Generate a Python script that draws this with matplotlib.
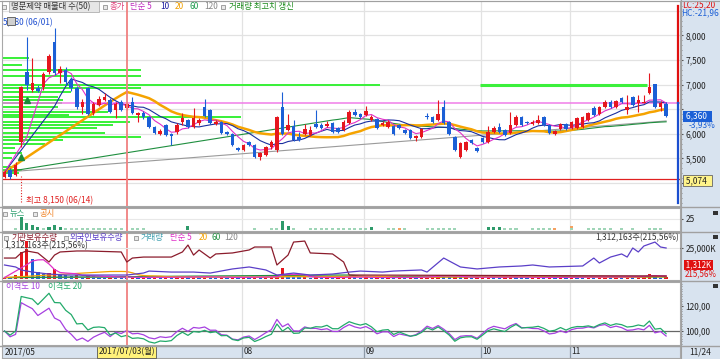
import numpy as np
import pandas as pd
import matplotlib
matplotlib.use('Agg')
import matplotlib.pyplot as plt
from matplotlib.patches import Rectangle
from matplotlib.lines import Line2D
from matplotlib.ticker import MultipleLocator

plt.rcParams['font.family'] = ['Noto Sans CJK KR', 'DejaVu Sans']
plt.rcParams['axes.linewidth'] = 0.8

# ---- daily candles 2017/05/31 .. 2017/11/24 ----
opens = [5120, 5260, 5160, 5830, 7260, 6890, 6930, 6950, 7260, 7870,
         7240, 7300, 7090, 6930, 6550, 6930, 6420, 6590, 6690, 6690,
         6480, 6650, 6520, 6650, 6380, 6420, 6340, 6140, 6000, 6180,
         6000, 6040, 6240, 6280, 6140, 6220, 6550, 6480, 6200, 6240,
         6040, 6000, 5710, 5670, 5830, 5770, 5530, 5570, 5730, 5670,
         6550, 6080, 6160, 5930, 6000, 5980, 6200, 6180, 6160, 6220,
         6120, 6080, 6220, 6440, 6400, 6380, 6280, 6300, 6180, 6140,
         6160, 6180, 6080, 6080, 5920, 5940, 6360, 6340, 6280, 6540,
         6240, 5940, 5530, 5670, 5870, 5710, 5920, 5830, 6040, 6140,
         6080, 6020, 6180, 6340, 6240, 6200, 6220, 6340, 6180, 6000,
         6100, 6200, 6120, 6120, 6140, 6280, 6520, 6400, 6550, 6650,
         6550, 6730, 6480, 6750, 6630, 6630, 6830, 7010, 6550, 6600]
highs = [5260, 5300, 5430, 6980, 7970, 7540, 7000, 7260, 7620, 8150,
         7380, 7360, 7150, 6980, 6700, 6960, 6650, 6760, 6830, 6720,
         6650, 6690, 6650, 6750, 6450, 6460, 6360, 6160, 6100, 6200,
         6020, 6220, 6420, 6300, 6520, 6320, 6710, 6500, 6280, 6260,
         6060, 6020, 5730, 5800, 5850, 5790, 5640, 5760, 5870, 6360,
         6850, 6400, 6280, 6040, 6200, 6150, 6480, 6220, 6260, 6250,
         6140, 6280, 6480, 6500, 6420, 6560, 6380, 6320, 6260, 6280,
         6180, 6200, 6100, 6100, 5980, 6120, 6420, 6360, 6680, 6680,
         6260, 5960, 5830, 5860, 5900, 5730, 5940, 6150, 6160, 6220,
         6100, 6440, 6380, 6360, 6260, 6280, 6380, 6360, 6200, 6080,
         6220, 6220, 6260, 6340, 6360, 6440, 6560, 6560, 6680, 6680,
         6690, 6750, 6780, 6770, 6780, 6780, 7240, 7020, 6670, 6640]
lows = [5100, 5080, 5140, 5730, 6890, 6850, 6840, 6900, 7220, 7200,
        7030, 6990, 6880, 6500, 6400, 6380, 6390, 6560, 6660, 6420,
        6320, 6460, 6480, 6400, 6240, 6300, 6120, 6000, 5980, 5960,
        5780, 6000, 6180, 6120, 6120, 6180, 6340, 6200, 6180, 6000,
        5980, 5750, 5650, 5650, 5750, 5510, 5470, 5540, 5700, 5620,
        5980, 6050, 5850, 5850, 5980, 5960, 6120, 6100, 6140, 6020,
        6020, 6060, 6200, 6360, 6320, 6360, 6260, 6100, 6160, 6120,
        5980, 6100, 6000, 5900, 5860, 5920, 6300, 6220, 6260, 6200,
        5980, 5650, 5500, 5650, 5790, 5630, 5810, 5810, 6020, 6020,
        5960, 6000, 6160, 6160, 6200, 6180, 6200, 6160, 6000, 5980,
        6080, 6080, 6100, 6100, 6120, 6260, 6360, 6380, 6530, 6530,
        6530, 6630, 6400, 6570, 6450, 6620, 6800, 6530, 6460, 6340]
closes = [5220, 5120, 5370, 6950, 6990, 7030, 6870, 7220, 7580, 7240,
          7320, 7050, 6930, 6550, 6650, 6400, 6610, 6710, 6750, 6440,
          6610, 6480, 6610, 6420, 6420, 6340, 6140, 6020, 6060, 5980,
          5960, 6180, 6320, 6140, 6320, 6280, 6360, 6220, 6240, 6020,
          6000, 5770, 5670, 5770, 5770, 5530, 5610, 5730, 5830, 6340,
          6000, 6180, 5870, 5870, 6100, 6080, 6140, 6120, 6200, 6040,
          6040, 6240, 6440, 6380, 6340, 6460, 6340, 6120, 6220, 6240,
          6000, 6120, 6020, 5920, 5960, 6100, 6340, 6240, 6400, 6220,
          6000, 5670, 5810, 5830, 5810, 5650, 5830, 6040, 6120, 6040,
          5980, 6180, 6340, 6180, 6220, 6240, 6280, 6180, 6020, 6060,
          6200, 6100, 6240, 6320, 6340, 6420, 6380, 6540, 6650, 6550,
          6670, 6650, 6540, 6590, 6690, 6650, 6950, 6550, 6620, 6360]

# volume in thousand shares
vol_k = [900, 700, 2500, 17000, 24000, 12600, 4200, 3100, 3600, 6300,
         3300, 2600, 1900, 2300, 1500, 2500, 1700, 1400, 1100, 1600,
         1200, 1000, 900, 1300, 800, 1100, 900, 1400, 1000, 1200,
         900, 1300, 1600, 1100, 1500, 1000, 1800, 1200, 900, 1100,
         800, 1300, 900, 1200, 1000, 1400, 1100, 1300, 1500, 2000,
         7000, 2600, 1800, 1100, 1300, 900, 1200, 800, 1000, 900,
         1100, 1300, 1700, 1000, 900, 1200, 800, 1000, 900, 1100,
         900, 1000, 800, 1200, 900, 1400, 1700, 2000, 2600, 1900,
         1300, 1600, 1100, 1300, 900, 1000, 1200, 1500, 1100, 900,
         1000, 1600, 1300, 1000, 800, 900, 1100, 1000, 1200, 900,
         1100, 1000, 1300, 1200, 1100, 1400, 1200, 1300, 1500, 1200,
         1300, 1100, 2000, 1400, 1500, 1600, 3300, 2500, 608.72, 1312.163]

# holdings (K shares): (candle index, value)
inst_pts = [(0, 16900), (2, 16900), (3, 21000), (4, 22600), (6, 21000), (8, 13700),
            (9, 19300), (10, 21800), (13, 22600), (15, 22600), (21, 21800), (22, 13700),
            (23, 16900), (25, 17700), (30, 17700), (32, 21800), (33, 27400), (34, 19300),
            (35, 23400), (37, 16900), (38, 20200), (41, 21000), (44, 23400), (45, 25800),
            (48, 25800), (49, 11300), (51, 19300), (52, 29800), (54, 30600), (55, 21000),
            (59, 20200), (61, 13700), (62, 3200), (90, 2800), (119, 2400)]
frgn_pts = [(0, 11300), (2, 9700), (3, 7300), (5, 5600), (8, 4000), (11, 3200),
            (22, 3200), (25, 4800), (26, 6400), (30, 5600), (34, 5600), (37, 4800),
            (41, 8100), (44, 9700), (47, 7300), (49, 3200), (52, 4800), (55, 3200),
            (59, 4000), (62, 5600), (64, 6400), (68, 5600), (70, 6400), (75, 7300),
            (76, 5600), (79, 16900), (82, 9700), (85, 8100), (89, 9700), (93, 10500),
            (95, 11300), (98, 9700), (104, 10500), (106, 16900), (107, 12900), (109, 17700),
            (111, 20200), (112, 17700), (113, 25000), (114, 21800), (115, 26600), (117, 29800),
            (118, 25800), (119, 25000)]

news = [0, 0, 5, 30, 16, 11, 7, 5, 7, 11,
        7, 5, 5, 5, 4, 5, 5, 5, 4, 5,
        5, 4, 0, 5, 4, 4, 0, 0, 0, 0,
        0, 0, 0, 9, 0, 0, 0, 0, 0, 0,
        0, 0, 0, 0, 0, 4, 0, 0, 4, 4,
        20, 9, 4, 0, 0, 4, 4, 4, 4, 4,
        4, 4, 4, 4, 4, 5, 7, 0, 0, 4,
        4, 0, 4, 0, 0, 0, 5, 5, 4, 4,
        4, 5, 0, 0, 0, 0, 0, 7, 7, 7,
        5, 4, 4, 0, 0, 4, 5, 4, 4, 0,
        0, 0, 5, 0, 0, 4, 4, 5, 5, 4,
        0, 4, 0, 5, 0, 0, 4, 4, 4, 0]
disc = [0] * 120
disc[71] = 4
disc[99] = 4
disc[102] = 3

# 매물대 (volume at price): price level, bar length in candle units
vp_levels = [7540, 7400, 7300, 7175, 6990, 6930, 6850, 6750, 6690, 6625, 6545, 6445, 6380, 6340,
             6240, 6180, 6120, 6015, 5935, 5875, 5795, 5710, 5610, 5510, 5325, 5265, 5205]
vp_lengths = [4.9, 3.6, 25, 25, 68, 25, 12.5, 10, 11, 10.8, 10, 19, 12, 43,
              23, 20, 17, 18.5, 25, 11, 7.7, 2.4, 3.6, 1.8, 2.4, 3.6, 3]
res_level, res_from, res_to = 6990, 85.5, 115.5
line_5074 = 5074

month_pos = [0, 43, 65, 86, 102]
month_labels = ['2017/05', '08', '09', '10', '11']
cross_idx = 22
cross_label = '2017/07/03(월)'
last_label = '11/24'
hi_date, lo_date = '06/14', '06/01'
record_days = [3, 4]

RED, BLUE = '#e5161e', '#1b5fd6'
W, H = 720, 359
X0, X1 = -0.45, 121.5
idx = np.arange(len(closes))

fig = plt.figure(figsize=(W / 100, H / 100), dpi=100, facecolor='white')


def rect(x0, y0, x1, y1):
    return [x0 / W, 1 - y1 / H, (x1 - x0) / W, (y1 - y0) / H]


def ftext(x, y, s, **kw):
    kw.setdefault('fontsize', 6)
    kw.setdefault('va', 'center')
    fig.text(x / W, 1 - y / H, s, **kw)


def fbox(x0, y0, x1, y1, **kw):
    fig.add_artist(Rectangle((x0 / W, 1 - y1 / H), (x1 - x0) / W, (y1 - y0) / H,
                             transform=fig.transFigure, **kw))


def fline(x0, y0, x1, y1, **kw):
    fig.add_artist(Line2D([x0 / W, x1 / W], [1 - y0 / H, 1 - y1 / H], transform=fig.transFigure, **kw))


def icon(x, y):
    fbox(x, y - 2, x + 4, y + 2, facecolor='#e8e8e8', edgecolor='#808080', lw=0.5, zorder=5)


def ma_line(vals, n):
    s = pd.Series(vals, dtype=float).rolling(n).mean()
    s.iloc[0] = vals[0]
    ok = s.notna().to_numpy()
    return idx[ok], s.to_numpy()[ok]


def disparity(vals, n):
    xi, m = ma_line(vals, n)
    return np.asarray(vals, float) / np.interp(idx, xi, m) * 100


def kfmt(v):
    return f'{v:.2f}'.replace('.', ',')


def base_axes(r):
    a = fig.add_axes(r)
    a.set_xlim(X0, X1)
    a.set_xticks([])
    for sp in a.spines.values():
        sp.set_color('#a8a8a8')
    for p in month_pos[1:]:
        a.axvline(p - 0.25, color='#e2e2e2', lw=0.9, zorder=0)
    return a


# right panel background
fbox(680, 0, 720, 359, facecolor='#d8e3ef', edgecolor='none', zorder=-1)

# ---------------- price panel ----------------
ax = base_axes(rect(2, 1, 680, 206))
ax.set_ylim(4532, 8700)
for v in range(5000, 8600, 500):
    ax.axhline(v, color='#e2e2e2', lw=0.9, zorder=0)
ax.barh(vp_levels, vp_lengths, height=45, left=X0, color='#3cf03c', lw=0, zorder=1)
ax.hlines(res_level, res_from, res_to, color='#3cf03c', lw=2.2, zorder=1)
ax.axhline(closes[-2], color='#f07de8', lw=1.1, zorder=2)
ax.axhline(line_5074, color='#e02020', lw=0.9, zorder=2)

for n, c, lw in [(120, '#9a9a9a', 0.8), (60, '#1f8f3f', 0.8), (20, '#f5a300', 1.8),
                 (10, '#1a2f9f', 0.8), (5, '#e030c8', 0.8)]:
    xi, m = ma_line(closes, n)
    ax.plot(xi, m, color=c, lw=lw, zorder=3)

up = np.array(closes) >= np.array(opens)
ccol = np.where(up, RED, BLUE)
ax.vlines(idx, lows, highs, colors=ccol, lw=0.8, zorder=4)
body_lo = np.minimum(opens, closes)
body_h = np.maximum(np.abs(np.subtract(closes, opens)), 18)
ax.bar(idx, body_h, bottom=body_lo, width=0.64, color=ccol, lw=0, zorder=5)

ax.plot(record_days, [lows[i] - 200 for i in record_days], marker='^', ls='none',
        color='#1a8a3a', ms=4.5, zorder=6)

ax.vlines(3, 4620, 5150, colors='#e02020', lw=0.8, linestyles=(0, (1, 1.5)), zorder=6)
ax.text(3.9, 4650, f'최고 {max(highs):,} ({hi_date})', fontsize=6, color='#e02020', va='center')
ax.text(X0 + 0.1, 8250, f'{min(lows):,} ({lo_date})', fontsize=6, color='#1f4fd0', va='center')

ax.yaxis.tick_right()
pticks = list(range(5000, 8001, 500))
ax.set_yticks(pticks)
# 5,000 and 6,500 are covered by the value boxes in the original
ax.set_yticklabels(['' if v in (5000, 6500) else f'{v:,}' for v in pticks])
ax.yaxis.set_minor_locator(MultipleLocator(100))
ax.tick_params(axis='y', which='major', labelsize=6, length=2.5, pad=1.5, colors='#555555', labelcolor='#222222')
ax.tick_params(axis='y', which='minor', length=1.2, colors='#777777')

# LC / HC bar at the right edge
ax.plot([X1 - 0.3] * 2, [8600, closes[-2]], color='#e01010', lw=1.6, clip_on=False, zorder=8)
ax.plot([X1 - 0.3] * 2, [closes[-2], 4590], color='#1b4fd0', lw=1.6, clip_on=False, zorder=8)

ytr = ax.get_yaxis_transform()
ax.text(1.006, closes[-1], f' {closes[-1]:,}  ', transform=ytr, fontsize=6, color='white',
        va='center', ha='left', clip_on=False, zorder=9,
        bbox=dict(boxstyle='square,pad=0.12', fc='#1b5fd6', ec='none'))
chg = (closes[-1] / closes[-2] - 1) * 100
ax.text(1.012, closes[-1] - 175, kfmt(chg) + '%', transform=ytr, fontsize=6, color='#1b5fd6',
        va='center', ha='left', clip_on=False, zorder=9)
ax.text(1.006, line_5074 - 20, f' {line_5074:,}  ', transform=ytr, fontsize=6, color='#222222',
        va='center', ha='left', clip_on=False, zorder=9,
        bbox=dict(boxstyle='square,pad=0.12', fc='#fff48a', ec='#666666', lw=0.6))

lc = (closes[-1] / min(lows) - 1) * 100
hc = (closes[-1] / max(highs) - 1) * 100
ftext(682, 5, f'LC:{kfmt(lc)}', color='#e01010')
ftext(681, 13, f'HC:{kfmt(hc)}', color='#1b5fd6')

# ---------------- news panel ----------------
axn = base_axes(rect(2, 208, 680, 231))
axn.set_ylim(-2.3, 50)
axn.axhline(25, color='#e8e8e8', lw=0.8, zorder=0)
ncol = ['#2e9a6a' if v >= 7 else '#9fd5b7' for v in news]
axn.bar(idx, news, width=0.55, color=ncol, lw=0)
axn.bar(idx, disc, bottom=news, width=0.55, color='#f5a060', lw=0)
axn.yaxis.tick_right()
axn.set_yticks([25])
axn.set_yticklabels(['25'])
axn.tick_params(axis='y', labelsize=6, length=2.5, pad=1.5, colors='#555555', labelcolor='#222222')

# ---------------- volume / holdings panel ----------------
axv = base_axes(rect(2, 233, 680, 280))
axv.set_ylim(-632, 29070)
axv.set_yticks([])
vcol = [RED] + [RED if vol_k[i] > vol_k[i - 1] else BLUE for i in range(1, len(vol_k))]
axv.bar(idx, vol_k, width=0.6, color=vcol, lw=0, zorder=2)
for n, c in [(120, '#9a9a9a'), (60, '#1f8f3f'), (20, '#f5a300'), (5, '#e030c8')]:
    xi, m = ma_line(vol_k, n)
    axv.plot(xi, m, color=c, lw=0.9, zorder=3)

axl = axv.twinx()
axl.set_ylim(-806, 37100)
for sp in axl.spines.values():
    sp.set_visible(False)
axl.axhline(25000, color='#e6e6e6', lw=0.8, zorder=0)
ix, iv = zip(*inst_pts)
fx, fv = zip(*frgn_pts)
axl.plot(ix, iv, color='#8b1c2c', lw=0.9)
axl.plot(fx, fv, color='#5b3fc8', lw=0.9)
axl.set_yticks([25000])
axl.set_yticklabels(['25,000K'])
axl.tick_params(axis='y', labelsize=6, length=2.5, pad=1.5, colors='#555555', labelcolor='#222222')

ratio = vol_k[-1] / vol_k[-2] * 100
vol_txt = f'{int(round(vol_k[-1] * 1000)):,}주({kfmt(ratio)}%)'
axl.text(0.998, 0.9, vol_txt, transform=axl.transAxes, fontsize=6, color='#333333', ha='right', va='center')
ftext(684, 265, f' {vol_k[-1]:,.0f}K ', color='white', fontsize=5.8,
      bbox=dict(boxstyle='square,pad=0.05', fc='#e01010', ec='none'))
ftext(685, 274, f'{kfmt(ratio)}%', color='#e01010', fontsize=5.8)

# ---------------- disparity panel ----------------
axd = base_axes(rect(2, 282, 680, 345))
axd.set_ylim(88.8, 139.2)
axd.axhline(100, color='#666666', lw=0.9, zorder=1)
axd.plot(idx, disparity(closes, 10), color='#a640e0', lw=0.9, zorder=2)
axd.plot(idx, disparity(closes, 20), color='#22aa6a', lw=0.9, zorder=3)
axd.yaxis.tick_right()
axd.set_yticks([100, 120])
axd.set_yticklabels(['100,00', '120,00'])
axd.yaxis.set_minor_locator(MultipleLocator(2))
axd.tick_params(axis='y', which='major', labelsize=6, length=2.5, pad=1.5, colors='#555555', labelcolor='#222222')
axd.tick_params(axis='y', which='minor', length=1.2, colors='#777777')

# crosshair through all panels
for a in (ax, axn, axv, axd):
    a.axvline(cross_idx, color='#f08080', lw=1.3, zorder=7)

# ---------------- x axis bar ----------------
axx = base_axes(rect(2, 346, 680, 358))
axx.set_facecolor('#d8e3ef')
axx.set_ylim(0, 1)
axx.set_yticks([])
for p, lab in zip(month_pos, month_labels):
    if p > 0:
        axx.axvline(p - 0.25, color='#8c9aa8', lw=0.9)
    axx.text(p - 0.05, 0.5, lab, fontsize=6, color='#222222', va='center', ha='left')
axx.text(cross_idx, 0.5, cross_label, fontsize=6, color='#222222', va='center', ha='center',
         bbox=dict(boxstyle='square,pad=0.15', fc='#fff27a', ec='#555555', lw=0.6), zorder=5)
ftext(700, 352, last_label, ha='center', color='#222222')

# ---------------- headers ----------------
icon(2, 7)
fbox(9, 1, 99, 12, facecolor='#e6e6e6', edgecolor='#b0b0b0', lw=0.6, zorder=4)
ftext(11, 6.5, '명문제약 매물대 수(50)', color='#333333', zorder=5)
icon(103, 7)
ftext(110, 6.5, '종가', color='#e0407a')
ftext(130, 6.5, '단순 5', color='#c030c0')
ftext(160, 6.5, '10', color='#1a1aa0')
ftext(175, 6.5, '20', color='#f0a000')
ftext(190, 6.5, '60', color='#1a9a4a')
ftext(204, 6.5, '120', color='#888888')
icon(221, 7)
ftext(229, 6.5, '거래량 최고치 갱신', color='#1a8a1a')
fbox(7, 17, 15, 25, facecolor='#d0d0d0', edgecolor='#555555', lw=0.6, zorder=6)

icon(3, 214)
ftext(10, 213.5, '뉴스', color='#30a070')
icon(33, 214)
ftext(40, 213.5, '공시', color='#f08020')

icon(4, 238)
ftext(11, 237.5, '기관보유수량', color='#8b1c2c')
icon(64, 238)
ftext(70, 237.5, '외국인보유수량', color='#5b3fc8')
icon(134, 238)
ftext(141, 237.5, '거래량', color='#40a0b0')
ftext(170, 237.5, '단순 5', color='#e030c8')
ftext(199, 237.5, '20', color='#f5a300')
ftext(211, 237.5, '60', color='#1f8f3f')
ftext(224, 237.5, '120', color='#888888')
ftext(4, 246, vol_txt, color='#333333')

ftext(6, 287, '이격도 10', color='#a640e0')
ftext(48, 287, '이격도 20', color='#22aa6a')

# panel separators and right panel icons
for y in (206.8, 231.8, 280.8, 345.6):
    fline(0, y, 720, y, color='#a0a0a0', lw=1.0, zorder=10)
fline(680.5, 0, 680.5, 359, color='#a0a0a0', lw=0.8, zorder=10)
fline(0, 0.5, 720, 0.5, color='#a0a0a0', lw=0.8, zorder=10)
for y in (213, 237, 286):
    fbox(713, y - 2, 718, y + 2, facecolor='#333333', edgecolor='none', zorder=10)

fig.savefig('out.png', dpi=100, facecolor='white')
